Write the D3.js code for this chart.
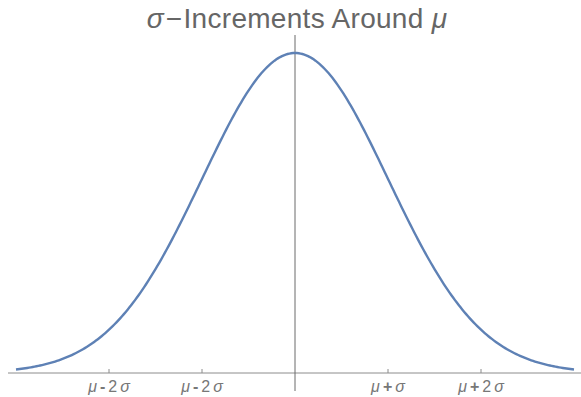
<!DOCTYPE html>
<html>
<head>
<meta charset="utf-8">
<script src="https://cdn.jsdelivr.net/npm/d3@7"></script>
<style>
  body { margin: 0; background: #fff; }
  svg { display: block; }
</style>
</head>
<body>
<div class="chart"></div>
<script>
// distribution parameters (standardised, x in units of sigma)
var mu = 0;
var sigma = 1;
var xDomain = [-3, 3];

// ticks along the x axis, in sigma units, with their labels as shown
var tickValues = [-2, -1, 1, 2];
var tickSigns = ["-", "-", "+", "+"];
var tickCounts = ["2", "2", "", "2"];

var width = 581, height = 397;

var x = d3.scaleLinear().domain(xDomain).range([16, 574]);
var pdf = t => Math.exp(-0.5 * Math.pow((t - mu) / sigma, 2)) / (sigma * Math.sqrt(2 * Math.PI));
var y = d3.scaleLinear().domain([0, pdf(mu)]).range([373, 53]);

var curve = d3.range(xDomain[0], xDomain[1] + 0.001, 0.02).map(t => [t, pdf(t)]);

var svg = d3.select(".chart").append("svg")
    .attr("width", width)
    .attr("height", height);

// x axis line
svg.append("line")
    .attr("x1", 8).attr("x2", width)
    .attr("y1", y(0)).attr("y2", y(0))
    .attr("stroke", "#8c8c8c")
    .attr("stroke-width", 1);

// vertical axis at mu
svg.append("line")
    .attr("x1", x(mu)).attr("x2", x(mu))
    .attr("y1", 35).attr("y2", 391)
    .attr("stroke", "#6b6b6b")
    .attr("stroke-width", 1);

// ticks
svg.selectAll(".tick")
    .data(tickValues)
    .enter().append("line")
    .attr("x1", d => x(d)).attr("x2", d => x(d))
    .attr("y1", y(0)).attr("y2", y(0) - 4)
    .attr("stroke", "#8c8c8c");

var labels = svg.selectAll(".lab")
    .data(tickValues)
    .enter().append("text")
    .attr("x", d => x(d))
    .attr("y", 392)
    .attr("text-anchor", "middle")
    .attr("font-family", "Liberation Sans, Arial, sans-serif")
    .attr("font-size", 16)
    .attr("fill", "#777");
labels.append("tspan").attr("font-style", "italic").text("μ");
labels.append("tspan").attr("dx", 3).attr("font-weight", "bold").text((d, i) => tickSigns[i]);
labels.append("tspan").attr("dx", (d, i) => tickCounts[i] ? 3 : 0).text((d, i) => tickCounts[i]);
labels.append("tspan").attr("dx", 3).attr("font-style", "italic").text("σ");

// the curve
svg.append("path")
    .datum(curve)
    .attr("fill", "none")
    .attr("stroke", "#5e81b5")
    .attr("stroke-width", 2.4)
    .attr("d", d3.line().x(d => x(d[0])).y(d => y(d[1])));

// title
var title = svg.append("text")
    .attr("x", 297)
    .attr("y", 28)
    .attr("text-anchor", "middle")
    .attr("font-family", "Liberation Sans, Arial, sans-serif")
    .attr("font-size", 28)
    .attr("letter-spacing", 0.3)
    .attr("fill", "#666");
title.append("tspan").attr("font-style", "italic").text("σ");
title.append("tspan").attr("dx", 2).text("−");
title.append("tspan").attr("dx", 1).text("Increments Around ");
title.append("tspan").attr("font-style", "italic").text("μ");
</script>
</body>
</html>
